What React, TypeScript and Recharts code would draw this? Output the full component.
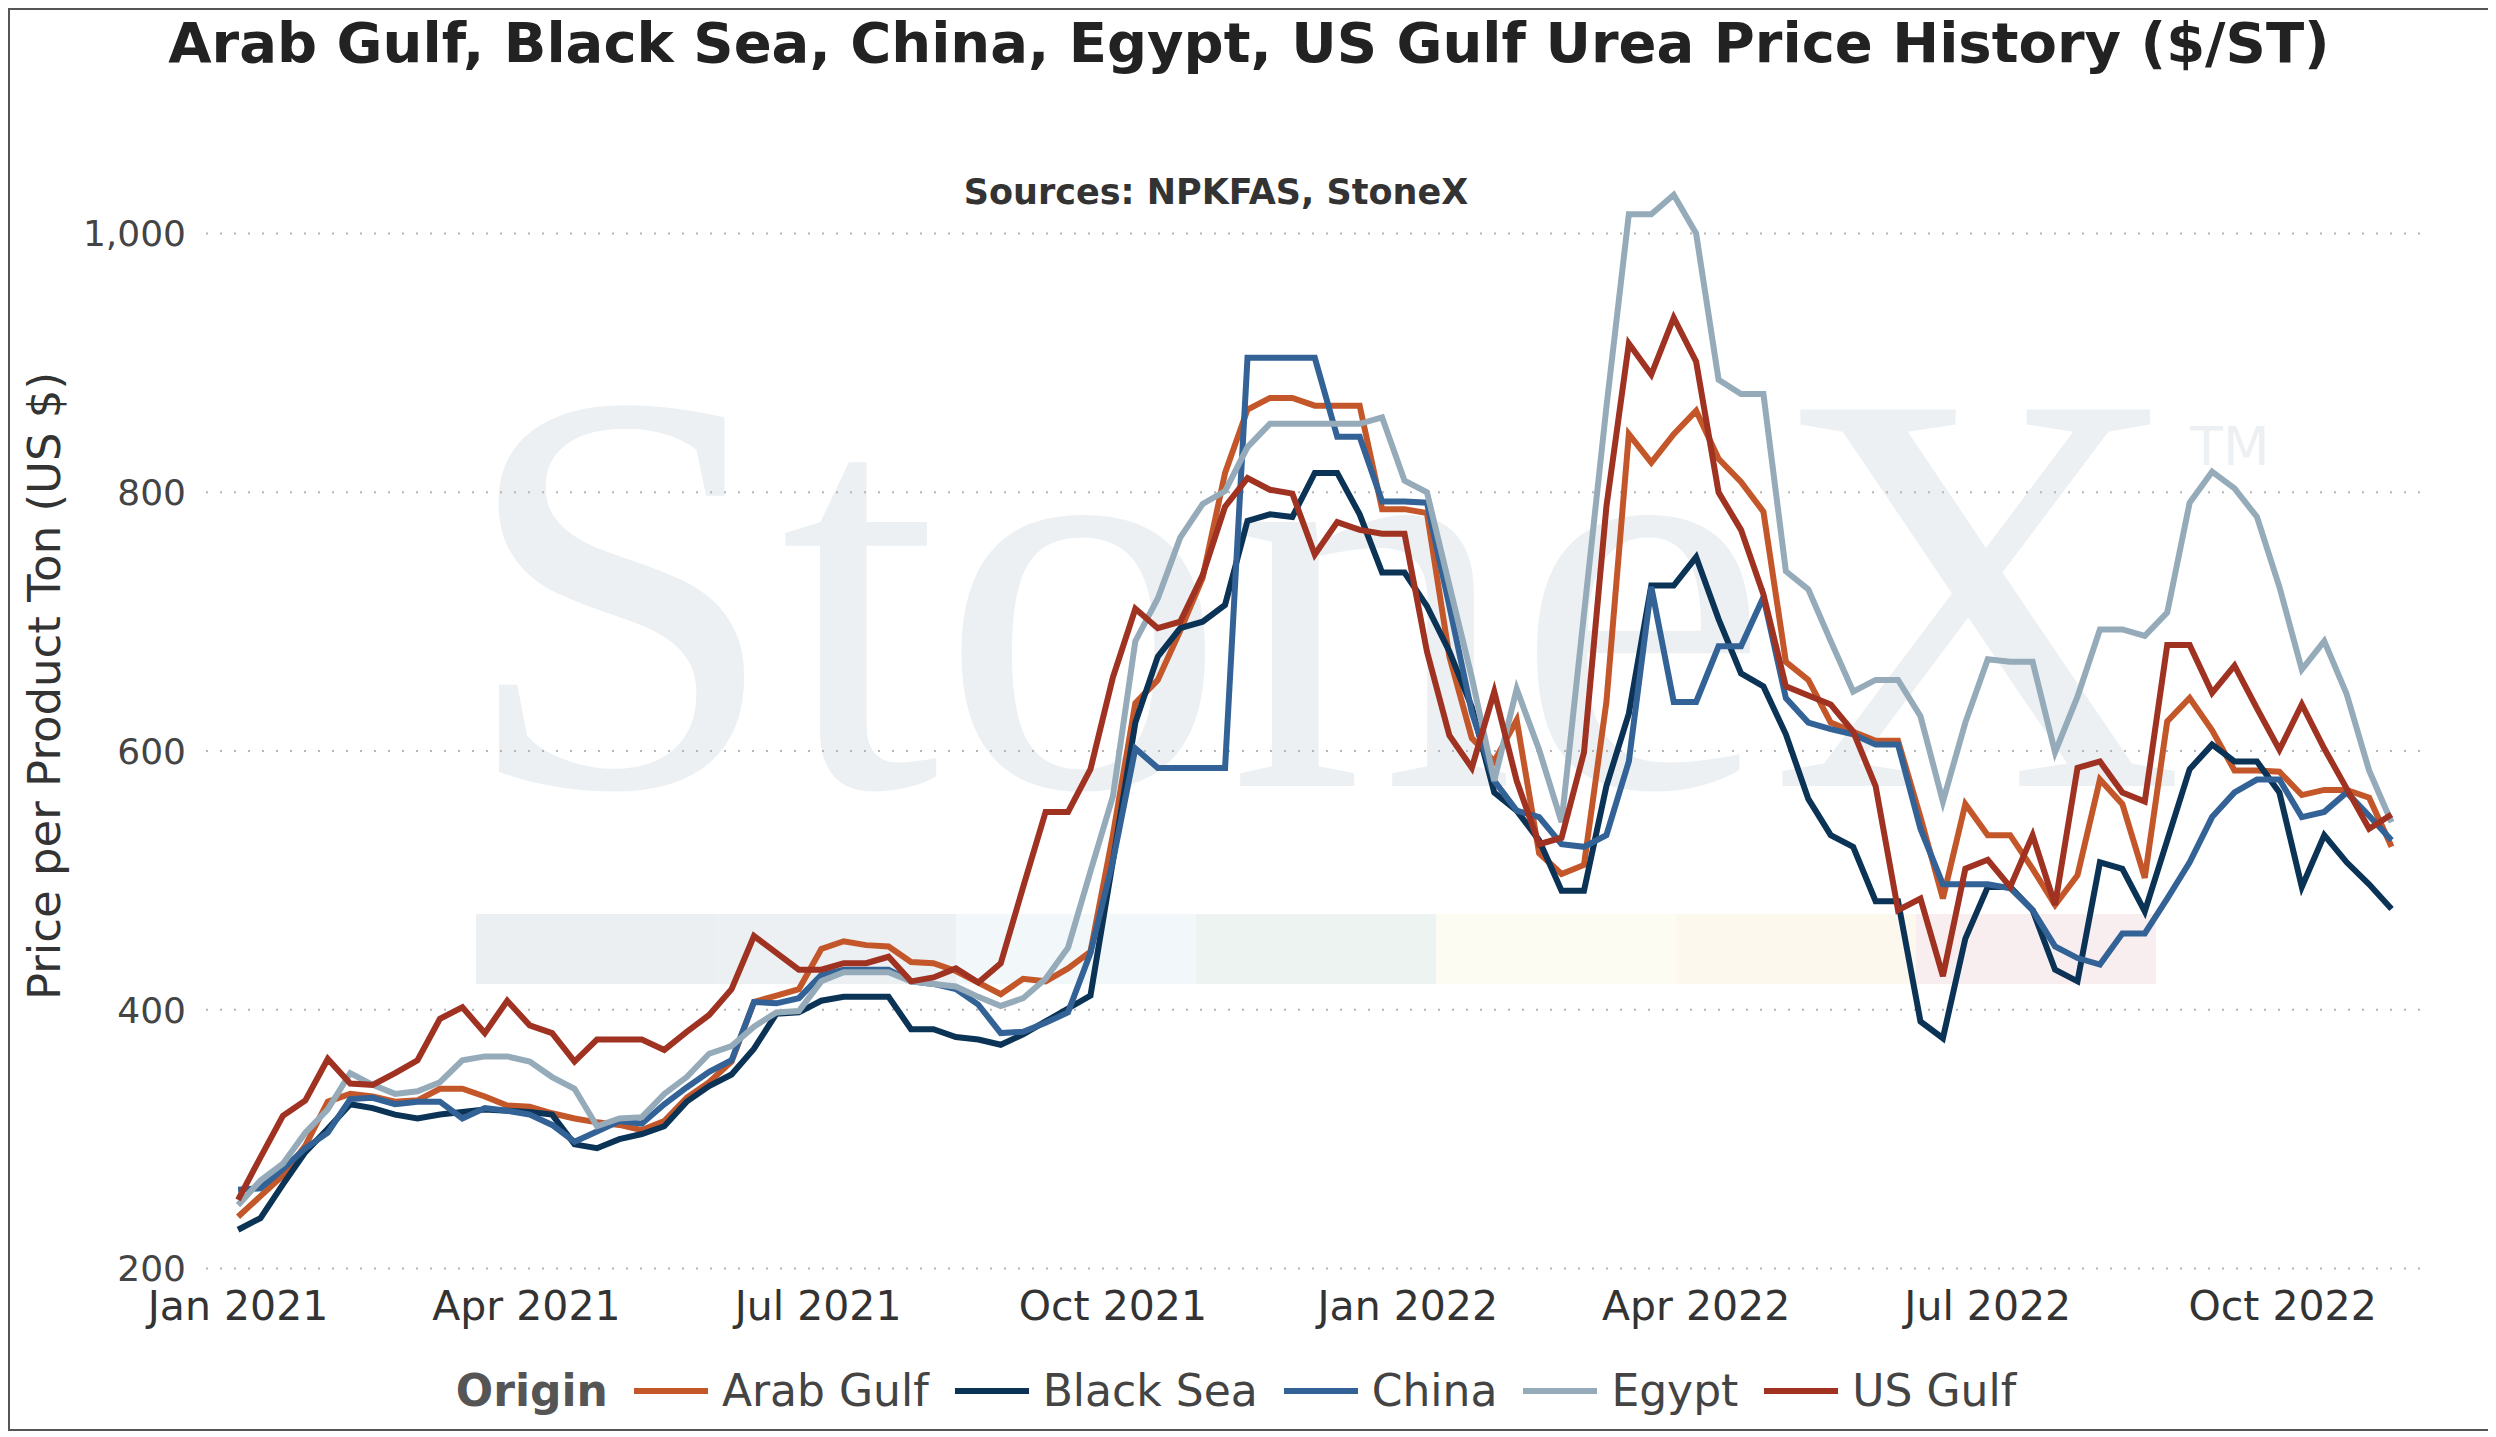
import React from 'react';
import { LineChart, Line, XAxis, YAxis, CartesianGrid } from 'recharts';

const START = Date.UTC(2021, 0, 1);
const WEEK = 7 * 24 * 3600 * 1000;

const arabGulf = [240,256,272,295,329,335,333,329,330,339,339,333,326,325,320,316,313,311,307,314,332,344,360,406,411,416,447,453,450,449,437,436,430,421,412,
424,422,432,445,535,637,655,693,734,815,864,873,873,867,867,867,787,787,784,673,
610,592,624,521,505,512,638,845,823,845,863,826,808,785,669,655,622,615,608,608,549,486,559,535,535,509,
481,504,578,559,502,623,641,616,585,585,584,566,570,570,564,526];
const blackSea = [230,239,265,290,308,327,324,319,316,319,321,323,322,321,319,296,293,300,304,310,329,341,350,370,397,398,407,410,410,410,385,385,379,377,373,
381,391,401,411,515,622,673,695,700,713,778,783,781,815,815,783,738,738,712,677,
634,568,554,531,492,492,573,629,728,728,750,702,660,650,613,563,535,526,484,484,391,378,455,495,495,477,
431,422,514,509,476,531,586,605,592,592,568,495,535,514,497,478];
const china = [261,262,277,293,305,331,332,327,329,329,316,324,322,319,311,298,306,314,312,327,340,352,361,406,405,409,427,431,431,431,422,420,416,404,382,
383,390,398,444,515,602,587,587,587,587,904,904,904,904,843,843,793,793,792,712,
630,577,554,549,528,526,535,592,727,638,638,681,681,719,641,622,617,613,605,605,540,497,497,497,494,477,
449,440,435,459,459,486,514,549,568,578,578,549,553,568,550,531];
const egypt = [249,268,281,305,323,351,342,335,337,344,361,364,364,360,348,339,310,316,317,335,348,366,372,387,398,399,422,429,429,429,422,420,418,410,403,
409,424,448,507,565,685,718,765,791,801,835,853,853,853,853,853,858,809,800,728,
657,577,648,601,545,706,866,1015,1015,1030,1000,887,876,876,739,725,685,646,655,655,627,561,622,671,669,669,
599,642,694,694,689,707,792,816,803,781,727,663,685,644,585,545];
const usGulf = [253,286,318,330,362,343,342,351,361,393,402,382,407,388,382,360,377,377,377,369,383,396,416,457,444,431,431,436,436,441,422,425,432,421,436,
495,553,553,586,657,710,695,700,736,789,811,802,799,752,777,771,768,768,677,612,
587,646,577,528,533,599,789,915,891,935,901,800,771,721,650,643,636,615,573,477,486,426,509,516,495,535,
481,587,592,568,561,682,682,645,666,633,601,636,602,571,540,551];

const xTicks = [
  Date.UTC(2021, 0, 1), Date.UTC(2021, 3, 1), Date.UTC(2021, 6, 1), Date.UTC(2021, 9, 1),
  Date.UTC(2022, 0, 1), Date.UTC(2022, 3, 1), Date.UTC(2022, 6, 1), Date.UTC(2022, 9, 1),
];
const yTicks = [200, 400, 600, 800, 1000];
const MONTHS = ['Jan','Feb','Mar','Apr','May','Jun','Jul','Aug','Sep','Oct','Nov','Dec'];

const series = [
  { key: 'ag', name: 'Arab Gulf', color: '#C4572A', values: arabGulf },
  { key: 'bs', name: 'Black Sea', color: '#0B3356', values: blackSea },
  { key: 'cn', name: 'China', color: '#336297', values: china },
  { key: 'eg', name: 'Egypt', color: '#95ABBA', values: egypt },
  { key: 'us', name: 'US Gulf', color: '#A03222', values: usGulf },
];

const data = arabGulf.map((_, i) => {
  const row: any = { t: START + i * WEEK };
  series.forEach(s => { row[s.key] = s.values[i]; });
  return row;
});

const FONT = '"DejaVu Sans", Verdana, sans-serif';
const bands = ['#ECEFF2', '#EDF0F2', '#F2F7FA', '#EDF3F1', '#FDFCF3', '#FCF8EE', '#F9EEEF'];

export default function App() {
  return (
    <div style={{ position: 'relative', width: 2478, height: 1419, border: '2px solid #555', background: '#fff', fontFamily: FONT, overflow: 'hidden' }}>
      <div style={{ position: 'absolute', left: 0, width: '100%', top: 0, textAlign: 'center', fontSize: 56, fontWeight: 'bold', color: '#222' }}>
        Arab Gulf, Black Sea, China, Egypt, US Gulf Urea Price History ($/ST)
      </div>
      <div style={{ position: 'absolute', left: 0, width: 2412, top: 162, textAlign: 'center', fontSize: 35, fontWeight: 'bold', color: '#333' }}>
        Sources: NPKFAS, StoneX
      </div>
      {/* watermark */}
      <div style={{ position: 'absolute', left: 450, top: 295, fontFamily: '"Liberation Serif", serif', fontSize: 575, lineHeight: 1, color: '#ECF0F3' }}>
        StoneX
      </div>
      <div style={{ position: 'absolute', left: 2180, top: 405, fontFamily: FONT, fontSize: 54, color: '#ECF0F3' }}>TM</div>
      <div style={{ position: 'absolute', left: 466, top: 904, display: 'flex', height: 70 }}>
        {bands.map((c, i) => <div key={i} style={{ width: 240, height: 70, background: c }} />)}
      </div>
      <div style={{ position: 'absolute', left: 34, top: 676, width: 0, height: 0 }}>
        <div style={{ position: 'absolute', transform: 'translate(-50%,-50%) rotate(-90deg)', whiteSpace: 'nowrap', fontSize: 45, color: '#333' }}>
          Price per Product Ton (US $)
        </div>
      </div>
      <div style={{ position: 'absolute', left: 0, top: 0 }}>
        <LineChart width={2478} height={1419} data={data} margin={{ top: 146, right: 58, bottom: 124, left: 0 }}>
          <CartesianGrid horizontal vertical={false} horizontalValues={yTicks} stroke="#b5b5b5" strokeDasharray="2 12" strokeWidth={2} />
          <XAxis dataKey="t" type="number" scale="time" domain={[Date.UTC(2020, 11, 22), Date.UTC(2022, 10, 16)]}
            ticks={xTicks} tickFormatter={(v: number) => { const d = new Date(v); return MONTHS[d.getUTCMonth()] + ' ' + d.getUTCFullYear(); }}
            axisLine={false} tickLine={false} tick={{ fontSize: 41, fill: '#333', fontFamily: FONT }} tickMargin={10} />
          <YAxis width={196} domain={[195, 1060]} ticks={yTicks} tickFormatter={(v: number) => v.toLocaleString('en-US')}
            axisLine={false} tickLine={false} tick={{ fontSize: 36, fill: '#444', fontFamily: FONT }} tickMargin={14} />
          {series.map(s => (
            <Line key={s.key} dataKey={s.key} name={s.name} stroke={s.color} strokeWidth={6} dot={false} type="linear" isAnimationActive={false} />
          ))}
        </LineChart>
      </div>
      <div style={{ position: 'absolute', left: 0, width: '100%', top: 1355, display: 'flex', justifyContent: 'center', alignItems: 'center', fontSize: 44, color: '#444' }}>
        <span style={{ fontWeight: 'bold', color: '#555', marginRight: 26 }}>Origin</span>
        {series.map(s => (
          <span key={s.key} style={{ display: 'flex', alignItems: 'center', marginRight: 26 }}>
            <span style={{ display: 'inline-block', width: 74, height: 6, background: s.color, marginRight: 14 }} />
            {s.name}
          </span>
        ))}
      </div>
    </div>
  );
}
